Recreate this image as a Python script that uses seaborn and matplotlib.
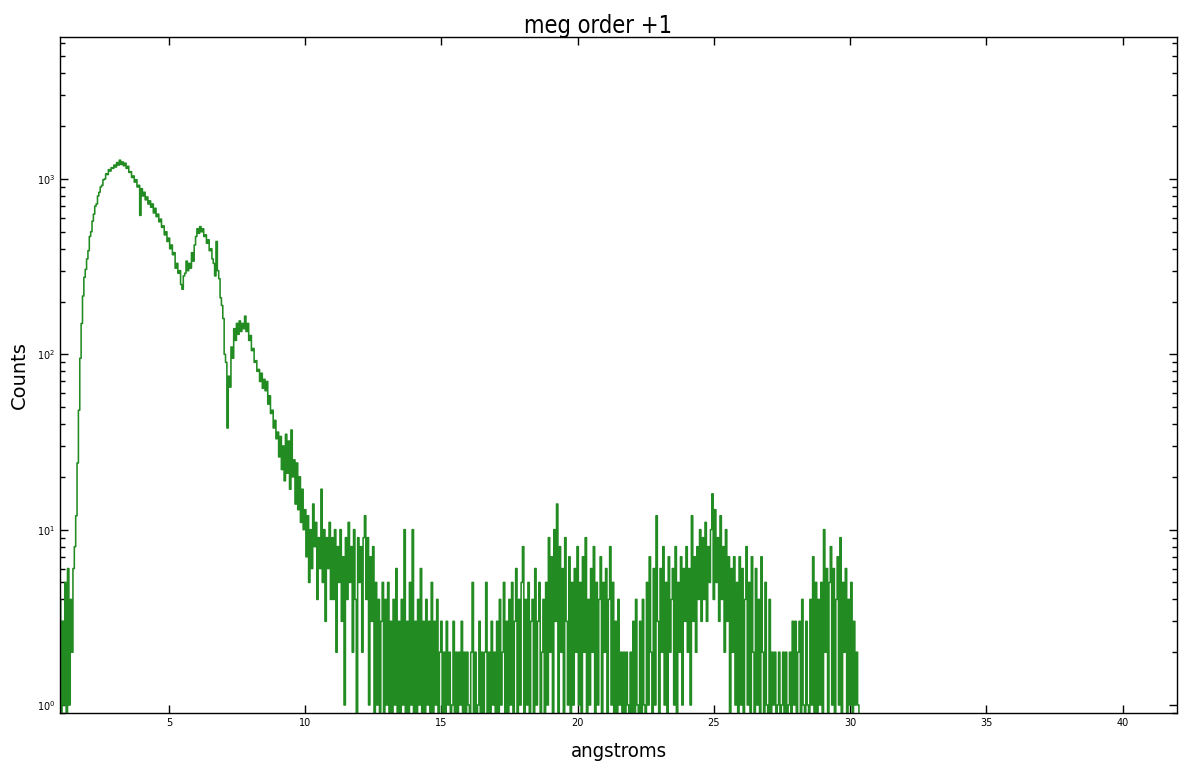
import numpy as np
import pandas as pd
import matplotlib
matplotlib.use("Agg")
import matplotlib.pyplot as plt
from matplotlib import font_manager
import seaborn as sns

# spectrum binned at 0.05 A, starting at 1.0 A
wave_start = 1.0
bin_width = 0.05
counts = [
    # 1.00 - 1.95
    4, 0, 3, 1, 5, 0, 6, 1, 4, 2, 6, 8, 12, 24, 48, 95, 150, 215, 275, 305,
    # 2.00 - 2.95
    350, 390, 470, 500, 575, 630, 700, 720, 800, 840, 900, 920, 990, 1000, 1070, 1060, 1130, 1110, 1160, 1150,
    # 3.00 - 3.95
    1200, 1170, 1240, 1200, 1280, 1210, 1250, 1190, 1230, 1150, 1180, 1090, 1100, 1020, 1040, 960, 990, 900, 920, 620,
    # 4.00 - 4.95
    880, 800, 840, 760, 790, 720, 750, 690, 720, 640, 680, 610, 630, 570, 590, 530, 540, 480, 500, 440,
    # 5.00 - 5.95
    460, 400, 420, 370, 380, 310, 330, 290, 300, 250, 235, 280, 290, 340, 300, 330, 310, 380, 340, 420,
    # 6.00 - 6.95
    470, 520, 490, 535, 500, 520, 470, 480, 430, 450, 390, 400, 350, 330, 280, 440, 300, 270, 210, 190,
    # 7.00 - 7.95
    160, 100, 90, 38, 75, 65, 110, 95, 140, 120, 150, 130, 155, 135, 150, 140, 165, 135, 150, 120,
    # 8.00 - 8.95
    128, 105, 108, 90, 92, 80, 82, 70, 78, 64, 72, 62, 70, 52, 58, 46, 48, 38, 42, 33,
    # 9.00 - 9.95
    36, 26, 34, 22, 30, 19, 35, 21, 32, 17, 37, 20, 25, 14, 24, 13, 20, 11, 17, 10,
    # 10.00 - 10.95
    13, 7, 12, 5, 10, 6, 14, 8, 11, 4, 9, 6, 17, 5, 10, 3, 9, 6, 11, 4,
    # 11.00 - 11.95
    9, 4, 10, 2, 8, 5, 10, 3, 7, 1, 9, 4, 11, 5, 8, 2, 10, 4, 0, 9,
    # 12.00 - 12.95
    5, 8, 2, 9, 12, 4, 9, 1, 7, 3, 8, 0, 5, 1, 4, 0, 3, 5, 0, 4,
    # 13.00 - 13.95
    1, 5, 0, 3, 0, 4, 1, 6, 0, 3, 0, 4, 1, 10, 0, 3, 0, 5, 1, 10,
    # 14.00 - 14.95
    0, 3, 0, 4, 1, 6, 0, 3, 0, 4, 1, 3, 0, 5, 0, 3, 1, 4, 0, 2,
    # 15.00 - 15.95
    3, 0, 2, 0, 3, 1, 2, 0, 1, 3, 0, 2, 0, 2, 1, 3, 0, 2, 0, 2,
    # 16.00 - 16.95
    1, 0, 2, 5, 0, 2, 0, 1, 3, 0, 2, 0, 2, 5, 0, 2, 0, 3, 1, 2,
    # 17.00 - 17.95
    0, 3, 0, 4, 1, 2, 5, 0, 3, 0, 4, 1, 5, 0, 3, 6, 0, 4, 1, 5,
    # 18.00 - 18.95
    8, 0, 4, 1, 5, 0, 3, 4, 0, 6, 1, 3, 5, 0, 2, 4, 0, 5, 1, 9,
    # 19.00 - 19.95
    2, 7, 0, 10, 3, 14, 0, 8, 2, 6, 0, 9, 3, 1, 7, 0, 5, 1, 6, 2,
    # 20.00 - 20.95
    8, 1, 5, 0, 7, 2, 9, 0, 4, 1, 6, 2, 8, 0, 5, 1, 4, 7, 0, 5,
    # 21.00 - 21.95
    2, 6, 0, 4, 8, 1, 5, 0, 3, 0, 4, 1, 2, 0, 2, 0, 2, 1, 0, 2,
    # 22.00 - 22.95
    0, 3, 0, 4, 1, 0, 3, 0, 4, 1, 0, 5, 1, 7, 2, 0, 6, 1, 12, 3,
    # 23.00 - 23.95
    0, 6, 2, 8, 1, 5, 0, 7, 2, 4, 6, 1, 8, 0, 5, 2, 7, 1, 6, 3,
    # 24.00 - 24.95
    8, 2, 6, 1, 12, 3, 7, 2, 8, 4, 10, 3, 9, 4, 11, 3, 8, 5, 10, 16,
    # 25.00 - 25.95
    4, 13, 5, 9, 3, 12, 4, 8, 2, 10, 3, 7, 0, 6, 2, 7, 1, 5, 0, 7,
    # 26.00 - 26.95
    1, 6, 0, 4, 8, 1, 5, 0, 7, 2, 0, 6, 1, 4, 0, 7, 2, 0, 5, 1,
    # 27.00 - 27.95
    0, 4, 0, 2, 1, 2, 0, 1, 2, 0, 1, 2, 0, 2, 0, 1, 2, 0, 3, 1,
    # 28.00 - 28.95
    3, 0, 2, 3, 0, 4, 1, 0, 3, 1, 0, 4, 1, 7, 0, 5, 0, 4, 1, 5,
    # 29.00 - 29.95
    0, 10, 2, 6, 0, 5, 8, 1, 6, 0, 4, 7, 1, 9, 0, 5, 2, 6, 0, 4,
    # 30.00 - 30.35
    1, 5, 0, 3, 1, 2, 1, 0,
]

wavelength = wave_start + bin_width * np.arange(len(counts))
# empty bins are drawn just under the bottom of the log axis
shown = np.where(np.array(counts) > 0, counts, 0.5)
df = pd.DataFrame({"angstroms": wavelength, "Counts": shown})

sns.set_style("ticks")
plt.rcParams["font.family"] = ["DejaVu Sans"]
plt.rcParams["xtick.direction"] = "in"
plt.rcParams["ytick.direction"] = "in"
plt.rcParams["path.simplify"] = False

# narrow font for title / xlabel if one is installed
fonts = font_manager.fontManager.ttflist
if any(f.name == "DejaVu Sans" and f.stretch == "condensed" for f in fonts):
    narrow = dict(family=["DejaVu Sans"], fontstretch="condensed")
    tsize, xsize = 17, 14.6
elif any(f.name == "Liberation Sans Narrow" for f in fonts):
    narrow = dict(family=["Liberation Sans Narrow", "DejaVu Sans"])
    tsize, xsize = 17.5, 15.5
else:
    narrow = dict(family=["DejaVu Sans"])
    tsize, xsize = 16.5, 14

fig = plt.figure(figsize=(11.79, 7.68), dpi=100)
ax = fig.add_axes([0.0509, 0.0716, 0.9474, 0.8802])

sns.lineplot(data=df, x="angstroms", y="Counts", estimator=None, sort=False,
             drawstyle="steps-mid", color="forestgreen", linewidth=1.15, ax=ax)

ax.set_yscale("log")
ax.set_xlim(1, 42)
ax.set_ylim(0.9, 6450)

ax.tick_params(which="both", top=True, right=True, labelsize=7, width=1.0,
               colors="black")
ax.tick_params(which="major", length=6)
ax.tick_params(which="minor", length=3.5)
ax.tick_params(axis="x", which="minor", bottom=False, top=False)
for s in ax.spines.values():
    s.set_linewidth(1.0)
    s.set_color("black")

fig.text(598 / 1179, 1 - 33 / 768, "meg order +1", ha="center", va="baseline",
         fontsize=tsize, color="black", **narrow)
ax.set_xlabel("angstroms", fontsize=xsize, labelpad=10.5, color="black", **narrow)
ax.set_ylabel("Counts", fontsize=14, labelpad=6, color="black")

fig.savefig("out.png", dpi=100)
